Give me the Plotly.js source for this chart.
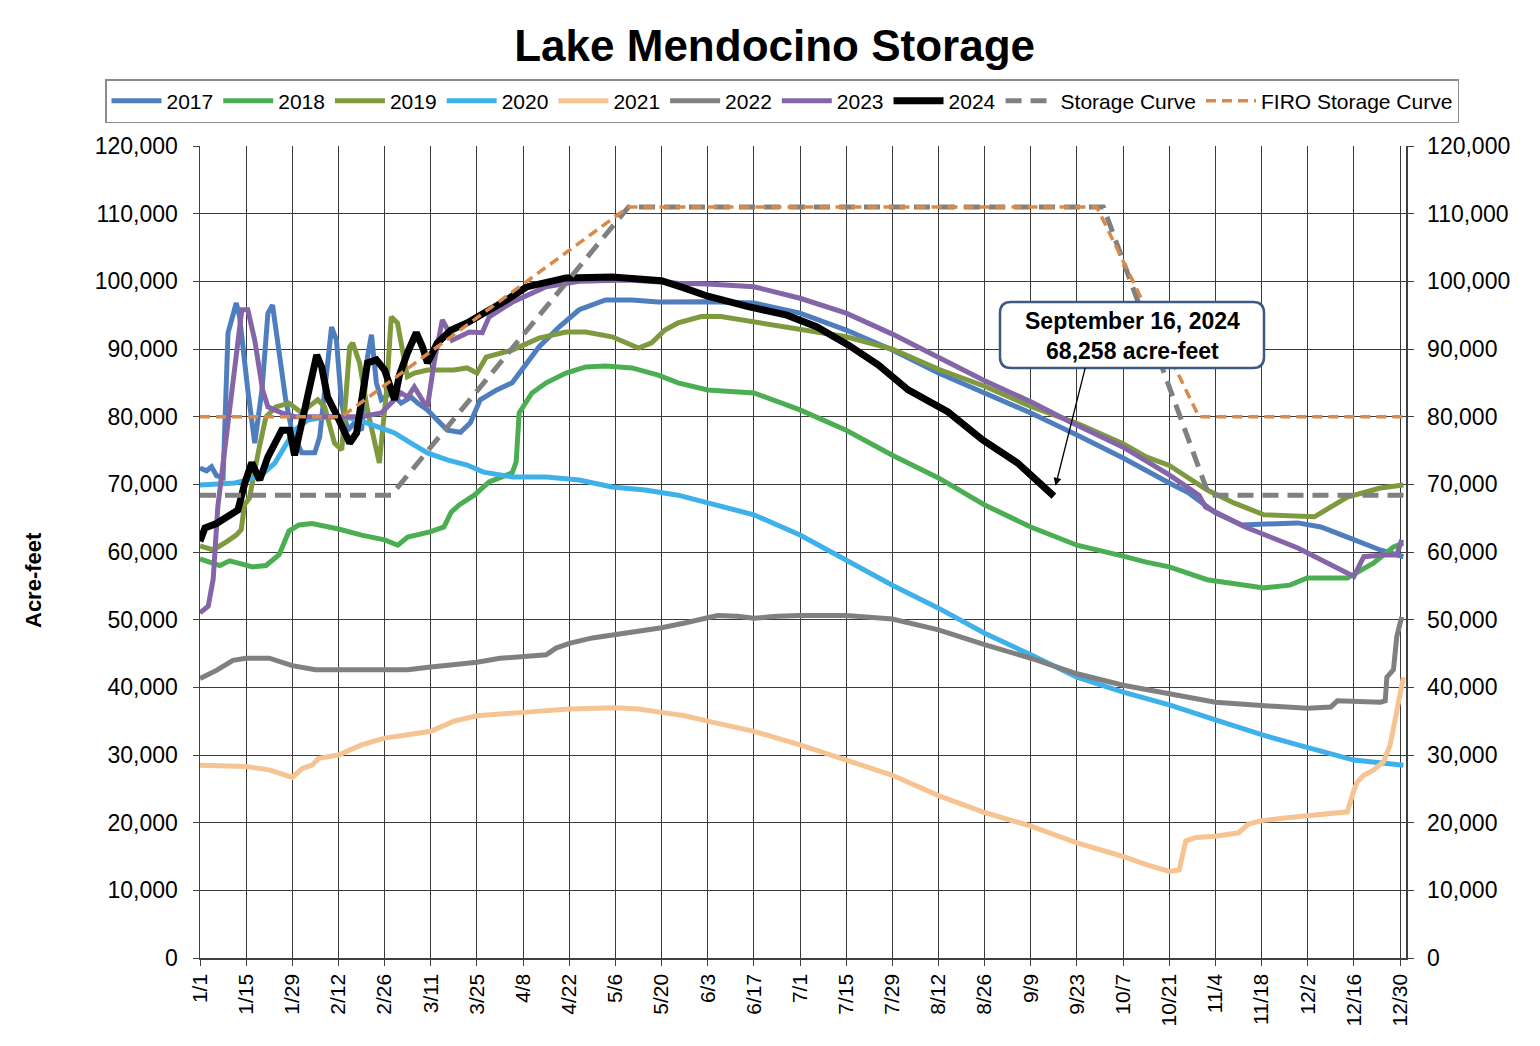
<!DOCTYPE html>
<html>
<head>
<meta charset="utf-8">
<script src="https://cdn.plot.ly/plotly-3.0.1.min.js"></script>
<style>body{margin:0;background:#fff}#chart{width:1540px;height:1046px}</style>
</head>
<body>
<div id="chart"></div>
<script>
// Day-of-year (0 = Jan 1) and storage (acre-feet)
const tickLabels = ['1/1','1/15','1/29','2/12','2/26','3/11','3/25','4/8','4/22','5/6','5/20','6/3','6/17','7/1','7/15','7/29','8/12','8/26','9/9','9/23','10/7','10/21','11/4','11/18','12/2','12/16','12/30'];

const days2017 = [0,2,3.5,5,7,8.5,11,12,14.5,16.6,18.8,20.6,22,24,26,28,30.9,34.8,36.3,38.4,39.9,41.4,42.9,44.8,46.9,49,50.8,52,53.5,55,58,61,64,66,69,71,75,79,82,85,90,94.7,96.8,102.8,108.9,115,123,131,139,145,154,168,182,196,210,224,238,252,266,280,294,300,308,316,333,340,348,358,365];
const vals2017 = [72400,72000,72600,71300,71000,92400,96800,94800,83950,76100,83950,95300,96500,88800,82500,77600,74650,74650,77000,86450,93250,91300,82000,78000,79100,78000,88800,92100,85000,82500,83500,82000,82900,82000,81000,80000,78000,77700,79100,82500,83950,85000,86450,90300,93250,95800,97250,97250,96950,96950,97000,96800,95300,92800,89850,86450,83500,80550,77300,73900,70200,68700,65800,64000,64300,63700,62200,60300,59300];

const days2018 = [0,3,6,9,12,16,20,24,27,30,34,42,49,56,60,63,70,74,76.2,78.6,83.2,87.7,94.7,95.9,96.8,100.7,105,111,117,123,131,139,145,154,168,182,196,210,224,238,252,266,280,287,294,305.5,322.7,330.6,335.8,348,356,362,365];
const vals2018 = [59000,58500,58000,58700,58300,57800,58000,59600,63100,64000,64200,63400,62500,61800,61000,62200,63000,63700,65900,66950,68400,70350,71700,73300,80550,83500,85000,86450,87350,87500,87200,86150,85000,83950,83500,81000,78000,74300,70950,66950,63700,61000,59400,58500,57800,55900,54700,55100,56150,56150,58400,60750,61300];

const days2019 = [0,4,8,11,12.5,13.5,15,16.5,18,20,23,27,31,33,35.7,37.8,40.8,43,45.4,46.3,48.4,50.8,54.4,56.6,58,59.9,62,62.9,65,69,77,81,84,86.8,94.7,102.8,111,117,125,133,137,141,145,152,158,168,182,196,210,224,238,252,266,280,287,294,305.5,313.6,322.7,338,348,358,365];
const vals2019 = [60900,60300,61500,62500,63300,67000,68000,72000,75500,79950,81450,82000,80500,81500,82500,81450,76100,75100,90300,90900,87950,81000,73150,83950,94750,93850,88800,85900,86450,86900,86900,87200,86450,88800,89850,91600,92500,92500,91800,90150,90900,92800,93850,94800,94800,94000,92800,91800,90000,87000,84500,81500,79000,76000,74050,72800,69150,67250,65500,65200,68100,69450,69900];

const days2020 = [0,10.6,14.5,18.7,22.7,25.7,28.7,32.7,38.7,44.8,49.9,55,59,64,69,75,81,86,94.7,105,115,125,135,145,154,168,182,196,210,224,238,252,266,280,294,308,322,333,350,365];
const vals2020 = [69900,70200,70650,71400,73150,75500,78000,79500,80000,79850,79200,78300,77600,76100,74650,73600,72850,71800,71100,71100,70650,69600,69150,68400,67250,65500,62500,58800,55100,51700,48000,44800,41500,39300,37400,35200,33000,31500,29250,28500];

const days2021 = [0,7,14,21,26,28,31,34,36,42,49,56,63,70,77,84,98,112,126,133,140,147,154,168,182,196,210,224,238,252,266,280,287,294,297,299,302,308,315,318,322,329,336,343,348,350,351,353,356,359,361,362,363.5,365];
const vals2021 = [28500,28400,28300,27800,27000,26700,28000,28500,29500,30000,31500,32500,33000,33500,35000,35800,36300,36800,37000,36800,36300,35800,35000,33500,31500,29200,27000,24000,21500,19500,17000,15000,13800,12800,13000,17300,17800,18000,18500,19800,20300,20700,21000,21300,21600,24800,26000,27000,27800,29000,31500,34000,38000,41500];

const days2022 = [0,5,10,14,21,28,35,42,56,63,70,77,84,91,98,105,108,112,119,126,133,140,147,154,157,163,168,175,182,196,205,210,224,238,252,266,280,294,308,322,336,343,345,358,359.5,360,362,363,364.5];
const vals2022 = [41300,42500,44000,44300,44300,43200,42600,42600,42700,42600,43000,43300,43700,44300,44600,44800,45800,46500,47300,47800,48200,48800,49500,50200,50600,50500,50200,50500,50600,50600,50300,50100,48500,46300,44300,42000,40300,39000,37800,37300,36900,37100,38000,37800,38000,41500,42600,47500,50400];

const days2023 = [0,2.5,4,5.4,8.5,12.7,14.5,16.6,19,20.6,24.8,28.7,41.7,49,55,59,61,63,65,68,69,71,73.5,74.7,76.5,81.7,85.6,87.7,95,105,115,130,145,154,168,182,196,210,224,238,252,264,280,294,303,305,317,333,350,353,359,363,364.5];
const vals2023 = [51000,52000,56000,66650,79100,95800,95800,91300,83950,81450,80550,80000,80000,80000,80550,82500,83500,82900,84400,82000,81450,87950,94300,93250,91300,92500,92400,94750,97000,99200,100000,100200,99700,99600,99200,97500,95300,92200,88800,85300,82200,79200,75500,71400,68400,66650,63700,60600,56400,59300,59550,59550,61800];

const days2024 = [0,1.5,5,8,11.5,13.6,15.7,18.1,20.6,24.8,27.2,28.7,30.9,33.3,35.4,36.9,38.7,41.7,45.4,47.5,49,50.8,53.5,56,59,60.5,62.9,65.6,67.5,69,72,76.2,81,86.2,93,99,105,111,125,135,140,147,154,166,178,187,196.6,205.7,214.8,226.9,237.4,248,259];
const vals2024 = [61600,63550,64200,65000,66200,70200,73200,70650,74050,78000,78000,74300,79100,83950,89100,87350,82900,80000,76100,77600,82000,87950,88400,86900,82500,86150,89400,92400,90300,87950,90900,92800,93850,95300,97250,99170,99900,100500,100650,100200,100100,99000,97800,96300,95000,93300,90600,87650,83950,80700,76550,73150,68258];

const daysStorage = [0,58,130,274,306,366];
const valsStorage = [68400,68400,111000,111000,68400,68400];
const daysFiro = [0,43,130,272,303,366];
const valsFiro = [80000,80000,111000,111000,80000,80000];

const seriesNames = ['2017','2018','2019','2020','2021','2022','2023','2024','Storage Curve','FIRO Storage Curve'];
const seriesColors = ['#4F7EBF','#4CAE52','#7F9A3E','#3FB1EA','#F6C492','#808080','#8466A8','#000000','#808080','#DA8A48'];
const dayArrays = [days2017,days2018,days2019,days2020,days2021,days2022,days2023,days2024,daysStorage,daysFiro];
const valArrays = [vals2017,vals2018,vals2019,vals2020,vals2021,vals2022,vals2023,vals2024,valsStorage,valsFiro];

const traces = seriesNames.map((n,i)=>{
  const line = {color: seriesColors[i], width: 5};
  if (n==='2024') line.width = 7;
  if (n==='Storage Curve') { line.dash = '16px,9px'; line.width = 5; }
  if (n==='FIRO Storage Curve') { line.dash = '10px,6px'; line.width = 3.5; }
  return {x: dayArrays[i], y: valArrays[i], name: n, type:'scatter', mode:'lines', line: line, hoverinfo:'skip'};
});
// carrier for the right-hand axis
traces.push({x:[days2024[0]], y:[vals2024[0]], yaxis:'y2', mode:'lines', line:{width:0}, showlegend:false, hoverinfo:'skip'});

// pixel -> paper helpers for the callout box
const L=200, R=1406, T=146, B=958;
const px = v => (v-L)/(R-L), py = v => (B-v)/(B-T);
function roundRect(x0,y0,x1,y1,r){
  return `M ${px(x0+r)},${py(y0)} L ${px(x1-r)},${py(y0)} Q ${px(x1)},${py(y0)} ${px(x1)},${py(y0+r)} `+
         `L ${px(x1)},${py(y1-r)} Q ${px(x1)},${py(y1)} ${px(x1-r)},${py(y1)} `+
         `L ${px(x0+r)},${py(y1)} Q ${px(x0)},${py(y1)} ${px(x0)},${py(y1-r)} `+
         `L ${px(x0)},${py(y0+r)} Q ${px(x0)},${py(y0)} ${px(x0+r)},${py(y0)} Z`;
}

const axisCommon = {
  showline:true, linecolor:'#404040', linewidth:1.5,
  ticks:'outside', ticklen:6, tickcolor:'#404040', tickwidth:1,
  zeroline:false
};

const layout = {
  width:1540, height:1046,
  margin:{l:L, r:1540-R, t:T, b:1046-B, pad:0},
  paper_bgcolor:'#ffffff', plot_bgcolor:'#ffffff',
  font:{family:'"Liberation Sans", Arial, sans-serif', color:'#000'},
  title:{text:'<b>Lake Mendocino Storage</b>', font:{size:44, color:'#000'}, x:0.503, xanchor:'center', y:0.956, yanchor:'middle'},
  showlegend:true,
  legend:{orientation:'h', xref:'paper', yref:'paper', x:px(105), xanchor:'left', y:py(79), yanchor:'top',
          bordercolor:'#8c8c8c', borderwidth:1.5, bgcolor:'#ffffff', font:{size:21}, traceorder:'normal', itemwidth:50},
  xaxis: Object.assign({}, axisCommon, {
    range:[0,365.8], tickmode:'array',
    tickvals: tickLabels.map((t,i)=>i*14), ticktext: tickLabels,
    tickangle:-90, tickfont:{size:21},
    showgrid:true, gridcolor:'#3a3a3a', gridwidth:1
  }),
  yaxis: Object.assign({}, axisCommon, {
    range:[0,120000], tick0:0, dtick:10000, tickformat:',d', tickfont:{size:23},
    showgrid:true, gridcolor:'#3a3a3a', gridwidth:1, ticklabelstandoff:10
  }),
  yaxis2: Object.assign({}, axisCommon, {
    overlaying:'y', side:'right', matches:'y',
    range:[0,120000], tick0:0, dtick:10000, tickformat:',d', tickfont:{size:23},
    showgrid:false, ticklabelstandoff:9
  }),
  shapes:[{type:'path', xref:'paper', yref:'paper', path: roundRect(1000,302,1264,368,11),
           fillcolor:'#ffffff', line:{color:'#3D5A82', width:2.5}, layer:'above'}],
  annotations:[
    {xref:'paper', yref:'paper', x:px(33), y:py(580), text:'<b>Acre-feet</b>', textangle:-90, showarrow:false,
     font:{size:22}, xanchor:'center', yanchor:'middle'},
    {xref:'paper', yref:'paper', x:px(1132), y:py(336), text:'<b>September 16, 2024<br>68,258 acre-feet</b>',
     showarrow:false, font:{size:23}, xanchor:'center', yanchor:'middle'},
    {x:259.5, y:69800, xref:'x', yref:'y', text:'', showarrow:true, ax:30, ay:-119,
     arrowhead:2, arrowsize:1.2, arrowwidth:1.3, arrowcolor:'#000'}
  ]
};

Plotly.newPlot('chart', traces, layout, {displayModeBar:false, staticPlot:true});
</script>
</body>
</html>
